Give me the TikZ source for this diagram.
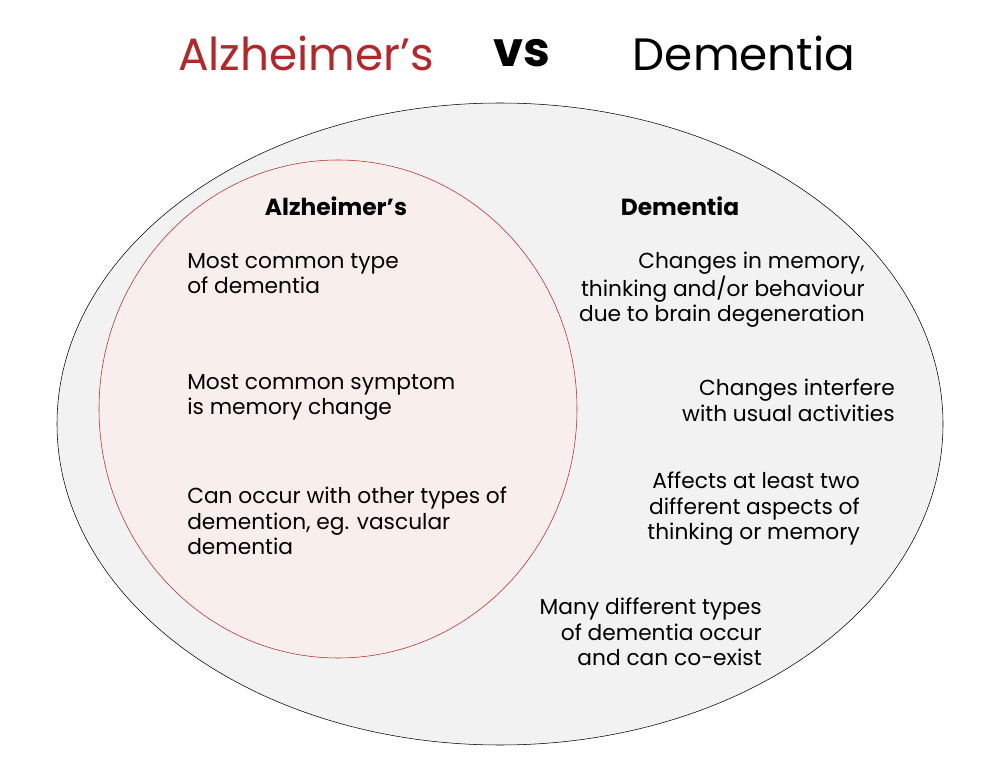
\documentclass[tikz,border=0pt]{standalone}
\usepackage{fontspec}
\usetikzlibrary{shapes.geometric}
\setmainfont{Poppins}
\definecolor{tred}{HTML}{B3262A}
\definecolor{outer}{HTML}{F2F2F2}
\definecolor{inner}{HTML}{F8EEEC}
\begin{document}
\begin{tikzpicture}[x=0.75pt,y=-0.75pt]
\tikzset{body/.style={font=\fontsize{16.3}{19}\selectfont, inner sep=0pt},
 lt/.style={body,anchor=north west,align=left},
 rt/.style={body,anchor=north east,align=right},
 head/.style={font=\fontsize{17.5}{19}\selectfont\bfseries,inner sep=0pt},
 title/.style={font=\fontsize{34}{40}\selectfont,inner sep=0pt}}
\useasboundingbox (0,0) rectangle (1000,759);
\node[draw=black,fill=outer,ellipse,minimum width=886*0.75pt,minimum height=642*0.75pt,inner sep=0pt] (big) at (500,424) {};
\node[draw=tred,fill=inner,ellipse,minimum width=478*0.75pt,minimum height=498*0.75pt,inner sep=0pt] (alz) at (338,409) {};
\node[title,text=tred] (t1) at (306,53) {Alzheimer\char"27 s};
\node[title,font=\fontsize{36}{40}\selectfont\bfseries] (t2) at (522,53) {vs};
\node[title] (t3) at (744,53) {Dementia};
\node[head] (h1) at (336,206) {Alzheimer’s};
\node[head] (h2) at (680,206) {Dementia};
\node[lt] (a1) at (187,253) {Most common type\\of dementia};
\node[lt] (a2) at (187,374) {Most common symptom\\is memory change};
\node[lt] (a3) at (187,487) {Can occur with other types of\\demention, eg. vascular\\dementia};
\node[rt] (d1) at (865,252) {Changes in memory,\\thinking and/or behaviour\\due to brain degeneration};
\node[rt] (d2) at (895,379) {Changes interfere\\with usual activities};
\node[rt] (d3) at (860,472) {Affects at least two\\different aspects of\\thinking or memory};
\node[rt] (d4) at (762,598) {Many different types\\of dementia occur\\and can co-exist};
\end{tikzpicture}
\end{document}
